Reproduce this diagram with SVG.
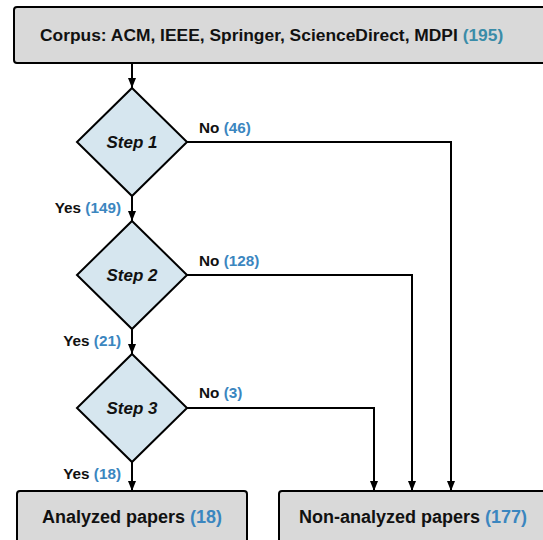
<svg xmlns="http://www.w3.org/2000/svg" width="543" height="540" viewBox="0 0 543 540">
<style>
.box{fill:#d9d9d9;stroke:#000;stroke-width:2}
.dia{fill:#d6e6ef;stroke:#000;stroke-width:2}
.ln{fill:none;stroke:#000;stroke-width:2}
text{font-family:"Liberation Sans",Arial,sans-serif;font-weight:bold;fill:#111}
.big{font-size:17.4px}
.bot{font-size:18px}
.lab{font-size:15.3px}
.step{font-size:17px;font-style:italic}
.n{fill:#3b86bf}
.nt{fill:#3a8ca8}
</style>
<defs>
<marker id="ah" viewBox="0 0 10 8" refX="10" refY="4" markerWidth="10" markerHeight="8" markerUnits="userSpaceOnUse" orient="auto">
<path d="M0,0 L10,4 L0,8 Z" fill="#000"/>
</marker>
</defs>
<g id="connectors">
<path class="ln" d="M132,63 V88" marker-end="url(#ah)"/>
<path class="ln" d="M132,196 V221" marker-end="url(#ah)"/>
<path class="ln" d="M132,329 V354" marker-end="url(#ah)"/>
<path class="ln" d="M132,462 V491" marker-end="url(#ah)"/>
<path class="ln" d="M187,142 H451 V491" marker-end="url(#ah)"/>
<path class="ln" d="M187,275 H412 V491" marker-end="url(#ah)"/>
<path class="ln" d="M187,408 H374 V491" marker-end="url(#ah)"/>
<text class="lab" x="199" y="133">No <tspan class="n">(46)</tspan></text>
<text class="lab" x="199" y="266">No <tspan class="n">(128)</tspan></text>
<text class="lab" x="199" y="398">No <tspan class="n">(3)</tspan></text>
<text class="lab" x="121" y="213" text-anchor="end">Yes <tspan class="n">(149)</tspan></text>
<text class="lab" x="121" y="346" text-anchor="end">Yes <tspan class="n">(21)</tspan></text>
<text class="lab" x="121" y="479" text-anchor="end">Yes <tspan class="n">(18)</tspan></text>
</g>
<g id="corpus">
<rect class="box" x="14" y="7" width="540" height="56" rx="3"/>
<text class="big" x="40" y="41">Corpus: ACM, IEEE, Springer, ScienceDirect, MDPI <tspan class="nt">(195)</tspan></text>
</g>
<g id="step1">
<polygon class="dia" points="132,88 187,142 132,196 77,142"/>
<text class="step" x="132" y="148" text-anchor="middle">Step 1</text>
</g>
<g id="step2">
<polygon class="dia" points="132,221 187,275 132,329 77,275"/>
<text class="step" x="132" y="281" text-anchor="middle">Step 2</text>
</g>
<g id="step3">
<polygon class="dia" points="132,354 187,408 132,462 77,408"/>
<text class="step" x="132" y="414" text-anchor="middle">Step 3</text>
</g>
<g id="analyzed">
<rect class="box" x="17" y="491" width="230" height="60" rx="3"/>
<text class="bot" x="132" y="523" text-anchor="middle">Analyzed papers <tspan class="n">(18)</tspan></text>
</g>
<g id="nonanalyzed">
<rect class="box" x="279" y="491" width="280" height="60" rx="3"/>
<text class="bot" x="299" y="523">Non-analyzed papers <tspan class="n">(177)</tspan></text>
</g>
</svg>
